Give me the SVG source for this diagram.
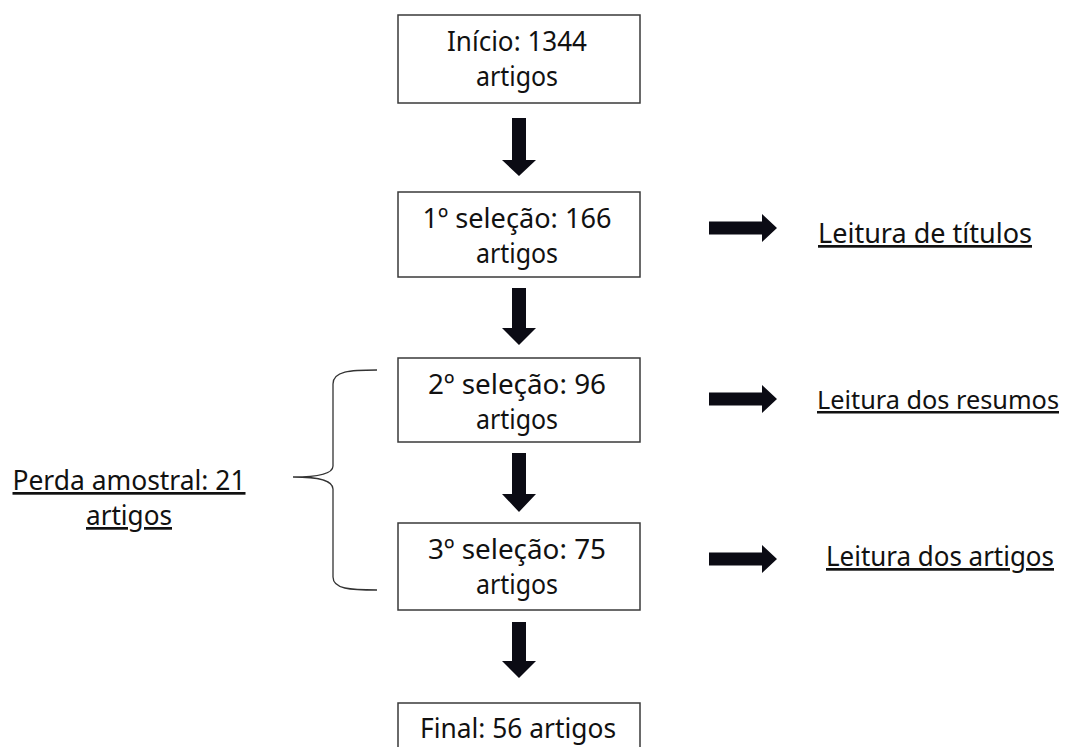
<svg xmlns="http://www.w3.org/2000/svg" width="1069" height="747" viewBox="0 0 1069 747">
<style>
.box{fill:#fff;stroke:#3a3a3a;stroke-width:1.5}
.t{font-family:"Noto Sans","Open Sans",sans-serif;font-size:27px;fill:#111;text-anchor:middle}
.u{text-decoration:underline}
.arr{fill:#0b0b14}
.brace{fill:none;stroke:#333;stroke-width:1.3}
</style>
<rect width="1069" height="747" fill="#fff"/>
<g id="n1"><rect class="box" x="398" y="15" width="242" height="88"/>
<text class="t" x="517" y="51" textLength="140" lengthAdjust="spacingAndGlyphs">Início: 1344</text>
<text class="t" x="517" y="86" textLength="82" lengthAdjust="spacingAndGlyphs">artigos</text></g>
<g id="n2"><rect class="box" x="398" y="192" width="242" height="85"/>
<text class="t" x="517" y="228" textLength="189" lengthAdjust="spacingAndGlyphs">1º seleção: 166</text>
<text class="t" x="517" y="263" textLength="82" lengthAdjust="spacingAndGlyphs">artigos</text></g>
<g id="n3"><rect class="box" x="398" y="358" width="242" height="84"/>
<text class="t" x="517" y="394" textLength="178" lengthAdjust="spacingAndGlyphs">2º seleção: 96</text>
<text class="t" x="517" y="429" textLength="82" lengthAdjust="spacingAndGlyphs">artigos</text></g>
<g id="n4"><rect class="box" x="398" y="523" width="242" height="87"/>
<text class="t" x="517" y="559" textLength="178" lengthAdjust="spacingAndGlyphs">3º seleção: 75</text>
<text class="t" x="517" y="594" textLength="82" lengthAdjust="spacingAndGlyphs">artigos</text></g>
<g id="n5"><rect class="box" x="398" y="703" width="242" height="60"/>
<text class="t" x="518" y="738" textLength="196" lengthAdjust="spacingAndGlyphs">Final: 56 artigos</text></g>
<g id="l1"><text class="t u" x="925" y="243" textLength="214" lengthAdjust="spacingAndGlyphs">Leitura de títulos</text></g>
<g id="l2"><text class="t u" x="938" y="409" style="font-size:25px" textLength="242" lengthAdjust="spacingAndGlyphs">Leitura dos resumos</text></g>
<g id="l3"><text class="t u" x="940" y="566" textLength="228" lengthAdjust="spacingAndGlyphs">Leitura dos artigos</text></g>
<g id="l4"><text class="t u" x="129" y="490" textLength="233" lengthAdjust="spacingAndGlyphs">Perda amostral: 21</text>
<text class="t u" x="129" y="525" textLength="86" lengthAdjust="spacingAndGlyphs">artigos</text></g>
<g id="connectors">
<path class="arr" d="M512,118 H526 V160 H536 L519,176 L502,160 H512 Z"/>
<path class="arr" d="M512,288 H526 V328 H536 L519,345 L502,328 H512 Z"/>
<path class="arr" d="M512,453 H526 V494 H536 L519,512 L502,494 H512 Z"/>
<path class="arr" d="M512,622 H526 V661 H536 L519,678 L502,661 H512 Z"/>
<path class="arr" d="M709,221.5 H762 V214 L777,228 L762,242 V234.5 H709 Z"/>
<path class="arr" d="M709,392.5 H762 V385 L777,399 L762,413 V405.5 H709 Z"/>
<path class="arr" d="M709,552.5 H762 V545 L777,559 L762,573 V565.5 H709 Z"/>
<path class="brace" d="M377,370 C350,370 333,371 333,384 L333,466 C333,473 322,477 293,477 C322,477 333,481 333,489 L333,577 C333,589 350,590 377,590"/>
</g>
</svg>
